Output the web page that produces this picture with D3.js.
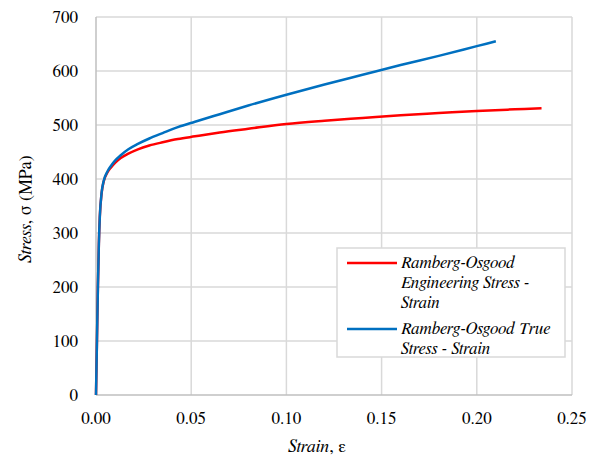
<!DOCTYPE html>
<html>
<head>
<meta charset="utf-8">
<script src="https://cdn.jsdelivr.net/npm/d3@7"></script>
<style>
  body { margin: 0; background: #fff; }
</style>
</head>
<body>
<div id="chart"></div>
<script>
// values
var engStrain = [0, 0.0005, 0.001, 0.0015, 0.002, 0.003, 0.004, 0.006, 0.008, 0.010, 0.013, 0.017, 0.022, 0.028, 0.035, 0.043, 0.052, 0.065, 0.080, 0.100, 0.120, 0.140, 0.160, 0.180, 0.200, 0.220, 0.234];
var engStress = [0, 100, 200, 280, 330, 375, 395, 412, 422, 430, 439, 447, 455, 462, 468, 474, 479, 486, 493, 502, 508, 513, 518, 522, 526, 529, 531];

var trueStrain = [0, 0.0005, 0.001, 0.0015, 0.002, 0.003, 0.004, 0.006, 0.008, 0.010, 0.013, 0.017, 0.022, 0.028, 0.035, 0.043, 0.052, 0.065, 0.080, 0.100, 0.120, 0.140, 0.160, 0.180, 0.200, 0.210];
var trueStress = [0, 100, 200, 280, 330, 376, 396, 414, 425, 434, 444, 455, 465, 475, 485, 496, 506, 520, 536, 556, 575, 593, 611, 628, 646, 655];

var xTicks = [0, 0.05, 0.10, 0.15, 0.20, 0.25];
var yTicks = [0, 100, 200, 300, 400, 500, 600, 700];

var seriesNames = [
  ["Ramberg-Osgood", "Engineering Stress -", "Strain"],
  ["Ramberg-Osgood True", "Stress - Strain"]
];
var seriesColors = ["#ff0000", "#0070c0"];

const width = 598;
const height = 462;
const plotLeft = 96, plotRight = 572, plotTop = 17, plotBottom = 395;
const fontName = "FreeSerif, Liberation Serif, serif";

var svg = d3.select("#chart").append("svg")
  .attr("width", width)
  .attr("height", height)
  .attr("font-family", fontName);

var xScale = d3.scaleLinear().domain([0, 0.25]).range([plotLeft, plotRight]);
var yScale = d3.scaleLinear().domain([0, 700]).range([plotBottom, plotTop]);

/* grid */
svg.append("g").selectAll("line")
  .data(yTicks.filter(d => d > 0)).enter()
  .append("line")
  .attr("x1", plotLeft).attr("x2", plotRight)
  .attr("y1", d => yScale(d)).attr("y2", d => yScale(d))
  .attr("stroke", "#d9d9d9").attr("stroke-width", 1.5);

svg.append("g").selectAll("line")
  .data(xTicks.filter(d => d > 0)).enter()
  .append("line")
  .attr("x1", d => xScale(d)).attr("x2", d => xScale(d))
  .attr("y1", plotTop).attr("y2", plotBottom)
  .attr("stroke", "#d9d9d9").attr("stroke-width", 1.5);

/* axes lines */
svg.append("line")
  .attr("x1", plotLeft).attr("x2", plotRight).attr("y1", plotBottom).attr("y2", plotBottom)
  .attr("stroke", "#bfbfbf").attr("stroke-width", 1.5);
svg.append("line")
  .attr("x1", plotLeft).attr("x2", plotLeft).attr("y1", plotTop).attr("y2", plotBottom)
  .attr("stroke", "#bfbfbf").attr("stroke-width", 1.5);

/* tick labels */
svg.append("g").selectAll("text")
  .data(xTicks).enter()
  .append("text")
  .attr("x", d => xScale(d))
  .attr("y", plotBottom + 29)
  .attr("text-anchor", "middle")
  .attr("font-family", fontName)
  .attr("font-size", 17)
  .text(d => d3.format(".2f")(d));

svg.append("g").selectAll("text")
  .data(yTicks).enter()
  .append("text")
  .attr("x", plotLeft - 18)
  .attr("y", d => yScale(d) + 6)
  .attr("text-anchor", "end")
  .attr("font-family", fontName)
  .attr("font-size", 17)
  .text(d => d);

/* axis titles */
var xt = svg.append("text")
  .attr("x", 317).attr("y", 452)
  .attr("text-anchor", "middle")
  .attr("font-family", fontName)
  .attr("font-size", 18);
xt.append("tspan").attr("font-style", "italic").text("Strain");
xt.append("tspan").text(", ε");

var yt = svg.append("text")
  .attr("transform", "translate(31,209) rotate(-90)")
  .attr("text-anchor", "middle")
  .attr("font-family", fontName)
  .attr("font-size", 18);
yt.append("tspan").attr("font-style", "italic").text("Stress");
yt.append("tspan").text(", σ (MPa)");

/* lines */
var line = d3.line()
  .x(d => xScale(d[0]))
  .y(d => yScale(d[1]))
  .curve(d3.curveMonotoneX);

var data = [
  d3.zip(engStrain, engStress),
  d3.zip(trueStrain, trueStress)
];

svg.append("g").selectAll("path")
  .data(data).enter()
  .append("path")
  .attr("d", d => line(d))
  .attr("fill", "none")
  .attr("stroke", (d, i) => seriesColors[i])
  .attr("stroke-width", 2.5);

/* legend */
var legend = svg.append("g");
legend.append("rect")
  .attr("x", 337).attr("y", 248)
  .attr("width", 228).attr("height", 109)
  .attr("fill", "#fff")
  .attr("stroke", "#d9d9d9").attr("stroke-width", 1.5);

var legendY = [263, 329];
seriesNames.forEach(function(lines, i) {
  legend.append("line")
    .attr("x1", 347).attr("x2", 397)
    .attr("y1", legendY[i]).attr("y2", legendY[i])
    .attr("stroke", seriesColors[i]).attr("stroke-width", 2.5);
  legend.append("g").selectAll("text")
    .data(lines).enter()
    .append("text")
    .attr("x", 401)
    .attr("y", (d, j) => legendY[i] + 5 + j * 20)
    .attr("font-family", fontName)
    .attr("font-size", 17)
    .attr("font-style", "italic")
    .text(d => d);
});
</script>
</body>
</html>
